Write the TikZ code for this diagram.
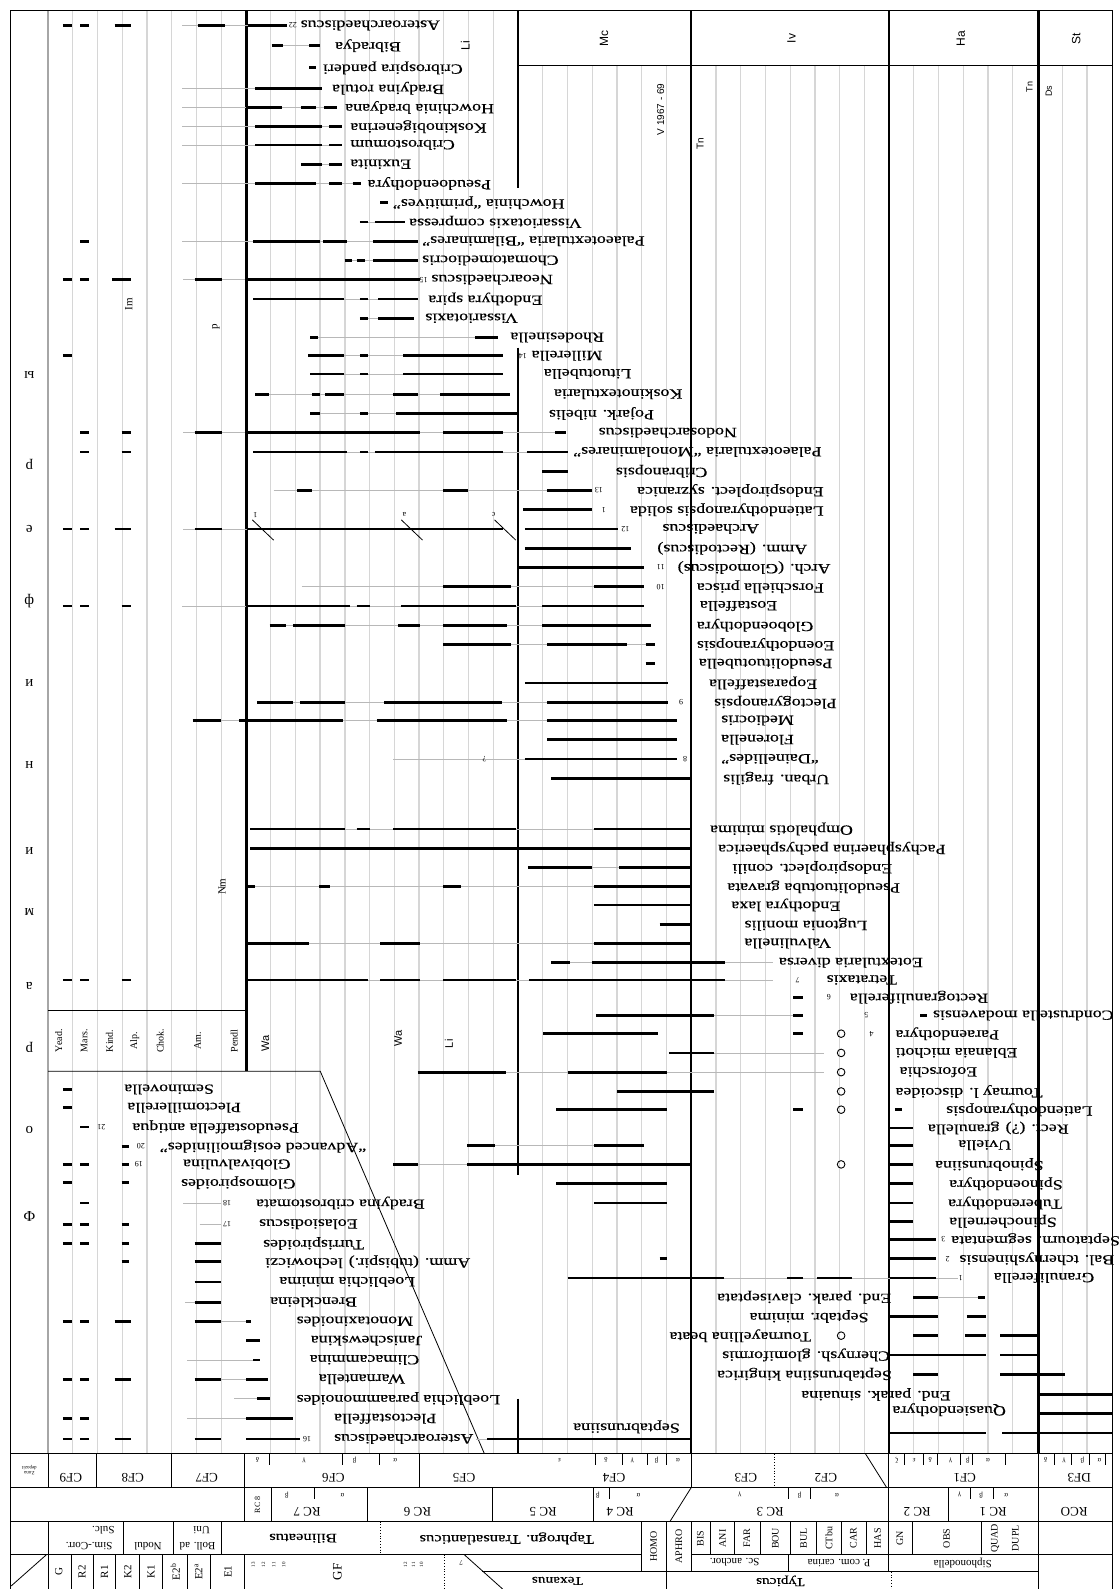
\documentclass[tikz,border=0pt]{standalone}
\usepackage{fontspec}
\setmainfont{Liberation Serif}
\newfontfamily\spf[FakeStretch=1.28,FakeBold=0.4]{Liberation Serif}
\newfontfamily\ssf{Liberation Sans}
\newcommand\spfont{\fontsize{14}{15}\spf}
\newcommand\tagfont{\fontsize{8}{8}\selectfont}
\newcount\nn
\newcommand\lb[3]{\global\advance\nn by 1\relax\node[sp] (n\the\nn) at (#2,#1) {#3};}
\newcommand\tg[3]{\global\advance\nn by 1\relax\node[tagl] (t\the\nn) at (#2,#1) {#3};}
\newcommand\rg[2]{\foreach \ra/\rb in {#2}{\draw[rbar] (\ra,#1) -- (\rb,#1);}}
\newcommand\gln[3]{\draw[gl] (#2,#1) -- (#3,#1);}
\newcommand\crc[1]{\draw[line width=0.9pt] (830,#1) circle[radius=3.8pt];}
\begin{document}
\begin{tikzpicture}[x=1.0136pt,y=-1.0136pt,
 vgrid/.style={draw=black!16, line width=1.3pt},
 thk/.style={line width=2.5pt},
 rbar/.style={line width=2.8pt},
 gl/.style={draw=black!28, line width=0.7pt},
 sp/.style={rotate=180, anchor=east, inner sep=0.5pt, font=\spfont},
 tagl/.style={rotate=180, inner sep=0pt, font=\tagfont},
 vlab/.style={rotate=90, inner sep=0.5pt},
 flab/.style={rotate=180, inner sep=0.5pt},
 sepl/.style={line width=0.8pt}]
\fill[white] (0,0) rectangle (1104,1568);
\useasboundingbox (0,0) rectangle (1104,1568);
% grid
\draw[line width=1.8pt, black!35] (47.4,10) -- (47.4,1434.5);
\foreach \k in {1,2,3,4,5,6,7,9,10,11,12,13,14,15,16,17,18}{\draw[vgrid] ({47.4+24.41*\k},10) -- ({47.4+24.41*\k},1434.5);}
\foreach \k in {20,21,22,23,24,25,27,28,29,30,31,32,33,35,36,37,38,39,41,42}{\draw[vgrid] ({47.4+24.41*\k},65) -- ({47.4+24.41*\k},1434.5);}
% thick lines
\draw[thk] (243,10) -- (243,1057);
\draw[thk] (511,10) -- (511,186);
\draw[thk] (511,343) -- (511,1159);
\draw[thk] (511,1380) -- (511,1434.5);
\draw[thk] (682,10) -- (682,1434.5);
\draw[thk] (877,10) -- (877,1434.5);
\draw[thk] (1025,10) -- (1025,1434.5);
\draw[sepl] (511,65) -- (1098,65);
\draw[sepl] (47.4,997) -- (243,997);
\draw[sepl] (47.4,1057) -- (316,1057) -- (478,1434.5);
% header labels
\node[vlab,font=\ssf\fontsize{12}{12}\selectfont] (hMc) at (596,38) {Mc};
\node[vlab,font=\ssf\fontsize{12}{12}\selectfont] (hIv) at (781,38) {Iv};
\node[vlab,font=\ssf\fontsize{12}{12}\selectfont] (hHa) at (948,38) {Ha};
\node[vlab,font=\ssf\fontsize{12}{12}\selectfont] (hSt) at (1062,38) {St};
\node[vlab,font=\ssf\fontsize{12}{12}\selectfont] (hLi) at (459,45) {Li};
\node[vlab,font=\ssf\fontsize{10}{10}\selectfont] (hV) at (652,108) {V 1967 - 69};
\node[vlab,font=\ssf\fontsize{10}{10}\selectfont] (hTn) at (691,142) {Tn};
\node[vlab,font=\ssf\fontsize{9}{9}\selectfont] (hTn2) at (1016,86) {Tn};
\node[vlab,font=\ssf\fontsize{9}{9}\selectfont] (hDs) at (1035,90) {Ds};
\node[vlab,font=\fontsize{11}{11}\selectfont] (hIm) at (127,300) {Im};
\node[vlab,font=\fontsize{11}{11}\selectfont] (hp) at (213,322) {p};
\node[vlab,font=\fontsize{11}{11}\selectfont] (hNm) at (219,875) {Nm};
\foreach \nm/\xx in {Yead./58,Mars./83,Kind./108,Alp./133,Chok./158,Am./195,Pendl/231}{\node[vlab,font=\fontsize{10}{10}\selectfont] (c\xx) at (\xx,1027) {\nm};}
\node[vlab,font=\ssf\fontsize{11}{11}\selectfont] (wa1) at (262,1030) {Wa};
\node[vlab,font=\ssf\fontsize{11}{11}\selectfont] (wa2) at (393,1025) {Wa};
\node[vlab,font=\ssf\fontsize{11}{11}\selectfont] (li2) at (443,1030) {Li};
% left column letters
\foreach \ch/\yy in {Ф/1200,о/1115,р/1034,а/973,м/900,и/840,н/755,и/674,ф/593,е/522,р/458,ы/370}{\node[flab,font=\fontsize{15}{15}\selectfont] (l\yy) at (29,\yy) {\ch};}
% ---- rows
\gln{25}{180}{245}\rg{25}{62/71,79/88,113/129,195/222,245/283}\tg{25}{289}{22}\lb{25}{296}{Asteroarchaediscus}
\gln{45}{268}{305}\rg{45}{268/279,305/316}\lb{45}{330}{Bibradya}
\rg{67}{305/312}\lb{67}{318}{Cribrospira panderi}
\gln{87}{180}{252}\rg{87}{252/318}\lb{87}{327}{Bradyina rotula}
\gln{106}{180}{320}\rg{106}{243/278,297/312,320/333}\lb{106}{340}{Howchinia bradyana}
\gln{125}{180}{325}\rg{125}{252/318,325/337}\lb{125}{345}{Koskinobigenerina}
\gln{143}{180}{325}\rg{143}{252/318,325/337}\lb{143}{345}{Cribrostomum}
\gln{162}{297}{325}\rg{162}{297/318,325/337}\lb{162}{345}{Euxinita}
\gln{181}{180}{348}\rg{181}{252/312,325/337,348/356}\lb{181}{362}{Pseudoendothyra}
\rg{200}{375/383}\lb{200}{387}{Howchinia “primitives”}
\gln{219}{355}{370}\rg{219}{355/363,370/400}\lb{219}{403}{Vissariotaxis compressa}
\gln{238}{180}{368}\rg{238}{79/88,250/316,319/342,368/412}\lb{238}{416}{Palaeotextularia “Bilaminares”}
\gln{257}{340}{368}\rg{257}{340/347,352/360,368/412}\lb{257}{416}{Chomatomediocris}
\gln{276}{181}{242}\rg{276}{62/71,79/88,111/129,192/219,242/414}\tg{276}{418}{15}\lb{276}{425}{Neoarchaediscus}
\gln{295}{250}{373}\rg{295}{250/339,355/363,373/412}\lb{295}{422}{Endothyra spira}
\gln{314}{355}{373}\rg{314}{355/363,373/409}\lb{314}{419}{Vissariotaxis}
\gln{333}{306}{469}\rg{333}{306/314,469/491}\lb{333}{503}{Rhodesinella}
\gln{351}{304}{398}\rg{351}{62/71,304/339,355/363,398/496}\tg{351}{516}{14}\lb{351}{524}{Millerella}
\gln{369}{306}{398}\rg{369}{306/339,355/363,398/496}\lb{369}{536}{Lituotubella}
\gln{389}{252}{434}\rg{389}{252/265,308/316,321/339,388/412,434/503}\lb{389}{546}{Koskinotextularia}
\gln{408}{306}{391}\rg{408}{306/316,355/363,391/510}\lb{408}{541}{Pojark. nibelis}
\gln{427}{181}{548}\rg{427}{79/88,120/129,192/219,242/414,437/496,548/559}\lb{427}{590}{Nodosarchaediscus}
\gln{446}{250}{520}\rg{446}{79/88,120/129,250/342,355/363,370/496,520/560}\lb{446}{565}{Palaeotextularia “Monolaminares”}
\rg{465}{535/560}\lb{465}{607}{Cribranopsis}
\gln{484}{270}{540}\rg{484}{293/308,437/462,540/584}\tg{484}{591}{13}\lb{484}{628}{Endospiroplect. syzranica}
\rg{503}{516/584}\tg{503}{596}{1}\lb{503}{621}{Latiendothyranopsis solida}
\gln{522}{181}{244}\rg{522}{62/71,79/88,113/129,192/219,244/496,518/610}\tg{522}{617}{12}\lb{522}{653}{Archaediscus}
\rg{541}{518/623}\lb{541}{648}{Amm. (Rectodiscus)}
\rg{560}{511/635}\tg{560}{652}{11}\lb{560}{668}{Arch. (Glomodiscus)}
\gln{579}{298}{586}\rg{579}{437/504,586/635}\tg{579}{652}{10}\lb{579}{687}{Forschiella prisca}
\gln{598}{180}{535}\rg{598}{62/71,79/88,120/129,243/345,352/365,396/509,535/635}\lb{598}{690}{Eostaffella}
\gln{617}{266}{535}\rg{617}{266/282,289/340,393/414,437/500,535/642}\lb{617}{687}{Globoendothyra}
\gln{636}{437}{637}\rg{636}{437/504,540/619,637/646}\lb{636}{687}{Eoendothyranopsis}
\rg{655}{637/646}\lb{655}{689}{Pseudolituotubella}
\rg{674}{518/659}\lb{674}{699}{Eoparastaffella}
\gln{693}{254}{540}\rg{693}{254/289,296/340,379/495,540/659}\tg{693}{672}{9}\lb{693}{704}{Plectogyranopsis}
\gln{711}{190}{540}\rg{711}{190/218,236/338,372/500,540/668}\lb{711}{711}{Mediocris}
\rg{730}{540/668}\lb{730}{711}{Florenella}
\gln{749}{388}{518}\rg{749}{518/668}\tg{749}{478}{?}\tg{749}{676}{8}\lb{749}{711}{“Dainellides”}
\rg{768}{544/683}\lb{768}{713}{Urban. fragilis}
\gln{818}{247}{586}\rg{818}{247/340,352/365,388/509,586/682}\lb{818}{700}{Omphalotis minima}
\rg{837}{247/682}\lb{837}{708}{Pachysphaerina pachysphaerica}
\gln{856}{521}{611}\rg{856}{521/584,611/682}\lb{856}{722}{Endospiroplect. conili}
\gln{875}{243}{586}\rg{875}{243/252,315/326,437/455,586/682}\lb{875}{717}{Pseudolituotuba gravata}
\rg{893}{586/682}\lb{893}{721}{Endothyra laxa}
\rg{912}{651/682}\lb{912}{734}{Lugtonia monilis}
\gln{931}{243}{586}\rg{931}{243/305,375/414,586/682}\lb{931}{734}{Valvulinella}
\gln{950}{544}{763}\rg{950}{544/562,584/715}\lb{950}{768}{Eotextularia diversa}
\gln{967}{243}{763}\rg{967}{62/71,79/88,120/129,243/363,375/414,437/509,522/715}\tg{967}{787}{7}\lb{967}{815}{Tetrataxis}
\rg{984}{783/792}\tg{984}{818}{6}\lb{984}{838}{Rectogranuliferella}
\gln{1002}{705}{783}\rg{1002}{588/705,783/792,908/915}\tg{1002}{855}{5}\lb{1002}{920}{Condrustella modavensis}
\rg{1020}{536/649,783/792}\crc{1020}\tg{1020}{860}{4}\lb{1020}{883}{Paraendothyra}
\gln{1039}{705}{813}\rg{1039}{660/705}\crc{1039}\lb{1039}{883}{Eblanaia michoti}
\gln{1058}{412}{813}\rg{1058}{412/499,560/658}\crc{1058}\lb{1058}{887}{Eoforschia}
\rg{1077}{609/705}\crc{1077}\lb{1077}{883}{Tournay l. discoidea}
\rg{1095}{549/658,783/792,883/890}\crc{1095}\lb{1095}{933}{Latiendothyranopsis}
\rg{1113}{878/901}\lb{1113}{915}{Rect. (?) granulella}
\gln{1130}{461}{586}\rg{1130}{461/488,586/635,878/901}\lb{1130}{945}{Uviella}
\gln{1149}{388}{461}\rg{1149}{388/412,461/682,878/901}\crc{1149}\lb{1149}{922}{Spinobrunsiina}
\rg{1168}{549/658,878/901}\lb{1168}{936}{Spinoendothyra}
\rg{1187}{586/658,878/901}\lb{1187}{935}{Tuberendothyra}
\rg{1205}{878/901}\lb{1205}{936}{Spinochernella}
\rg{1223}{878/924}\tg{1223}{931}{3}\lb{1223}{938}{Septatourn. segmentata}
\rg{1242}{651/658,878/924}\tg{1242}{935}{2}\lb{1242}{946}{Bal. tchernyshinensis}
\gln{1261}{714}{945}\rg{1261}{560/714,777/792,806/841,878/924}\tg{1261}{948}{1}\lb{1261}{980}{Granuliferella}
\gln{1280}{926}{965}\rg{1280}{901/926,965/972}\lb{1280}{707}{End. parak. claviseptata}
\rg{1299}{878/926,954/973}\lb{1299}{739}{Septabr. minima}
\rg{1318}{901/926,952/973,987/1025}\crc{1318}\lb{1318}{660}{Tournayellina beata}
\rg{1337}{878/973,987/1025}\lb{1337}{712}{Chernysh. glomiformis}
\rg{1356}{901/926,987/1051}\lb{1356}{707}{Septabrunsiina kingirica}
\rg{1376}{1025/1098}\lb{1376}{790}{End. parak. sinuaina}
\rg{1395}{1025/1098}\lb{1391}{880}{Quasiendothyra}
\rg{1414}{878/973,989/1098}
\lb{1408}{565}{Septabrunsiina}
% lower-left block
\rg{1075}{62/71}\lb{1075}{122}{Seminovella}
\rg{1093}{62/71}\lb{1093}{125}{Plectomillerella}
\rg{1112}{79/88}\tg{1112}{100}{21}\lb{1112}{130}{Pseudostaffella antiqua}
\rg{1131}{120/127}\tg{1131}{139}{20}\lb{1131}{157}{“Advanced eosigmoilinides”}
\rg{1149}{62/71,79/88,120/127}\tg{1149}{137}{19}\lb{1149}{180}{Globivalvulina}
\rg{1167}{62/71,120/127}\lb{1167}{178}{Glomospiroides}
\gln{1187}{181}{218}\rg{1187}{79/88}\tg{1187}{224}{18}\lb{1187}{252}{Bradyina cribrostomata}
\gln{1208}{197}{218}\rg{1208}{62/71,79/88,120/127}\tg{1208}{224}{17}\lb{1208}{255}{Eolasiodiscus}
\rg{1227}{62/71,79/88,120/127,192/218}\lb{1227}{259}{Turrispiroides}
\rg{1245}{120/127,192/218}\lb{1245}{261}{Amm. (tubispir.) lechowiczi}
\rg{1265}{192/218}\lb{1265}{275}{Loeblichia minima}
\gln{1285}{183}{192}\rg{1285}{192/218}\lb{1285}{266}{Brenckleina}
\gln{1304}{218}{243}\rg{1304}{62/71,79/88,113/129,192/218,243/248}\lb{1304}{292}{Monotaxinoides}
\rg{1323}{243/257}\lb{1323}{306}{Janischewskina}
\gln{1342}{185}{250}\rg{1342}{250/257}\lb{1342}{305}{Climacammina}
\gln{1361}{218}{243}\rg{1361}{62/71,79/88,113/129,192/218,243/264}\lb{1361}{314}{Warnantella}
\gln{1380}{231}{254}\rg{1380}{254/266}\lb{1380}{292}{Loeblichia paraammonoides}
\gln{1400}{185}{243}\rg{1400}{62/71,79/88,243/289}\lb{1400}{329}{Plectostaffella}
\gln{1420}{470}{552}\rg{1420}{62/71,79/88,113/129,192/218,243/296,481/682}\tg{1420}{303}{16}\lb{1420}{329}{Asteroarchaediscus}
% slanted ticks
\foreach \xx in {249,396,488}{\draw[line width=0.8pt] (\xx,513) -- ++(21,20);}
\tg{508}{252}{1}\tg{508}{399}{a}\tg{508}{487}{c}
% ---- bottom rows
\draw[sepl] (10,1434.5) -- (1098,1434.5);
\draw[sepl] (10,1468) -- (1098,1468);
\draw[sepl] (10,1501.5) -- (1098,1501.5);
\draw[sepl] (10,1534) -- (633,1534);
\draw[sepl] (682,1534) -- (1098,1534);
\draw[sepl] (476,1551) -- (1025,1551);
\foreach \xx in {47.4,95,169,241,414,682,877,1025}{\draw[sepl] (\xx,1434.5) -- (\xx,1468);}
\draw[sepl,dotted] (764,1434.5) -- (764,1468);
\draw[sepl] (854,1434.5) -- (875,1468);
\foreach \xx in {266,338,374,588,614,639,658,892,911,925,948,960,992,1040,1057,1075,1091}{\draw[sepl] (\xx,1434.5) -- (\xx,1446);}
\foreach \xx in {241,268,363,486,586,877,936,1025}{\draw[sepl] (\xx,1468) -- (\xx,1501.5);}
\draw[sepl] (682,1468) -- (661,1501.5);
\foreach \xx in {310,601,778,800,958,980}{\draw[sepl] (\xx,1468) -- (\xx,1479);}
\foreach \xx in {47.4,122,171,218,682,701,725,750,780,806,830,855,877,900,968,1025}{\draw[sepl] (\xx,1501.5) -- (\xx,1534);}
\draw[sepl] (633,1501.5) -- (633,1551);
\draw[sepl] (658,1501.5) -- (658,1568);
\draw[sepl] (682,1534) -- (682,1551);
\draw[sepl,dotted] (375,1501.5) -- (375,1534);
\foreach \xx in {47.4,70,92,114,138,160,185,208,241}{\draw[sepl] (\xx,1534) -- (\xx,1568);}
\draw[sepl,dotted] (439,1534) -- (439,1568);
\draw[sepl] (458,1534) -- (496,1568);
\draw[sepl] (11,1565) -- (46,1534);
\draw[sepl] (778,1534) -- (778,1551);
\draw[sepl] (877,1534) -- (877,1551);
\draw[sepl,dotted] (880,1551) -- (880,1568);
\draw[sepl] (1025,1534) -- (1025,1568);
% row A labels
\node[flab,font=\fontsize{5}{5}\selectfont,align=center] (zd) at (29,1451) {Zona\\depozit};
\foreach \nm/\xx in {CF9/70,CF8/131,CF7/204,CF6/329,CF5/458,CF4/606,CF3/736,CF2/815,CF1/952,DF3/1065}{\node[flab,font=\fontsize{13}{13}\selectfont] (z\xx) at (\xx,1458) {\nm};}
\foreach \gk/\xx in {δ/254,γ/300,β/350,α/390,ε/552,δ/598,γ/624,β/648,α/669,ζ/885,ε/902,δ/918,γ/938,β/955,α/975,δ/1032,γ/1050,β/1068,α/1085}{\node[flab,font=\fontsize{7}{7}\selectfont] (g\xx) at (\xx,1441) {\gk};}
% row B labels
\node[vlab,font=\fontsize{8}{8}\selectfont] (rc8) at (254,1485) {RC 8};
\foreach \nm/\xx in {RC 7/303,RC 6/412,RC 5/536,RC 4/612,RC 3/760,RC 2/905,RC 1/980,RCO/1060}{\node[flab,font=\fontsize{13}{13}\selectfont] (r\xx) at (\xx,1492) {\nm};}
\foreach \gk/\xx in {β/283,α/338,β/590,α/630,γ/730,β/789,α/826,γ/947,β/968,α/993}{\node[flab,font=\fontsize{7}{7}\selectfont] (q\xx) at (\xx,1475) {\gk};}
% row C labels
\node[flab,font=\fontsize{11}{11}\selectfont] (cs1) at (88,1526) {Sim.-Corr.};
\node[flab,font=\fontsize{11}{11}\selectfont] (cs2) at (102,1510) {Sulc.};
\node[flab,font=\fontsize{11}{11}\selectfont] (cs3) at (146,1526) {Nodul};
\node[flab,font=\fontsize{11}{11}\selectfont] (cs4) at (195,1526) {Boll. ad};
\node[flab,font=\fontsize{11}{11}\selectfont] (cs5) at (199,1510) {Uni};
\node[flab,font=\fontsize{13}{13}\spf] (cs6) at (299,1518) {Bilineatus};
\node[flab,font=\fontsize{13}{13}\spf] (cs7) at (500,1518) {Taphrogn. Transatlanticus};
\foreach \nm/\xx in {HOMO/645,APHRO/670}{\node[vlab,font=\fontsize{10}{10}\selectfont] (h\xx) at (\xx,1526) {\nm};}
\foreach \nm/\xx in {BIS/691,ANI/713,FAR/737,BOU/765,BUL/793,CTbu/818,CAR/842,HAS/866,GN/888,OBS/934,QUAD/982,DUPL/1002}{\node[vlab,font=\fontsize{10}{10}\selectfont] (h\xx) at (\xx,1518) {\nm};}
% row D labels
\foreach \nm/\xx in {G/58,R2/81,R1/103,K2/126,K1/149,E2\textsuperscript{b}/173,E2\textsuperscript{a}/196,E1/225}{\node[vlab,font=\fontsize{11}{11}\selectfont] (d\xx) at (\xx,1551) {\nm};}
\node[vlab,font=\fontsize{13}{13}\selectfont] (dGF) at (333,1551) {GF};
\foreach \nm/\xx in {13/250,12/260,11/270,10/280,12/400,11/408,10/416}{\node[vlab,font=\fontsize{5}{5}\selectfont] (e\xx) at (\xx,1544) {\nm};}
\node[flab,font=\fontsize{7}{7}\selectfont] (d7) at (455,1542) {7};
\node[flab,font=\fontsize{11}{11}\selectfont] (dsc) at (725,1542) {Sc. anchor.};
\node[flab,font=\fontsize{11}{11}\selectfont] (dpc) at (828,1542) {P. com. carina};
\node[flab,font=\fontsize{11}{11}\selectfont] (dsi) at (950,1542) {Siphonodella};
\node[flab,font=\fontsize{12}{12}\spf] (dtx) at (550,1560) {Texanus};
\node[flab,font=\fontsize{12}{12}\spf] (dty) at (770,1560) {Typicus};
% frame
\draw[line width=1.2pt] (10,1568) -- (10,10) -- (1098,10) -- (1098,1568);
\end{tikzpicture}
\end{document}
